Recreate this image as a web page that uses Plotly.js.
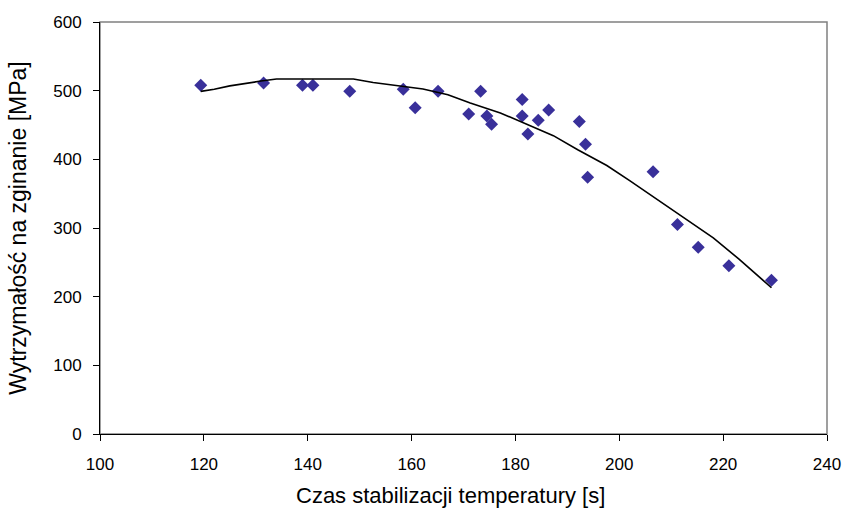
<!DOCTYPE html>
<html>
<head>
<meta charset="utf-8">
<script src="https://cdn.plot.ly/plotly-3.0.1.min.js"></script>
<style>html,body{margin:0;padding:0;background:#fff;}#chart{width:845px;height:511px;}</style>
</head>
<body>
<div id="chart"></div>
<script>
// measured points
const czas = [119.4, 131.5, 139.0, 141.0, 148.1, 158.4, 160.7, 165.1, 171.0, 173.3, 174.5, 175.4, 181.3, 181.3, 182.4, 184.4, 186.4, 192.3, 193.5, 193.9, 206.5, 211.2, 215.2, 221.1, 229.3];
const wytrzymalosc = [508, 511, 508, 508, 499, 502, 475, 499, 466, 499, 463, 451, 487, 463, 437, 457, 472, 455, 422, 374, 382, 305, 272, 245, 224];
// trend line
const trendX = [119.4, 122, 125, 128, 131, 134, 140, 148.8, 152.6, 157, 162.2, 167, 171.3, 177.1, 182, 187.3, 192, 197.6, 202, 207.8, 213, 218.1, 223, 229.3];
const trendY = [499, 502, 507, 511, 514, 517, 517, 517, 512, 508, 502.5, 494, 482, 467.5, 452, 434.5, 414, 391, 369, 339, 312, 285.6, 255, 213];
const xTicks = [100, 120, 140, 160, 180, 200, 220, 240];
const yTicks = [0, 100, 200, 300, 400, 500, 600];
const xTitle = 'Czas stabilizacji temperatury [s]';
const yTitle = 'Wytrzymałość na zginanie [MPa]';

const traces = [
  {x: czas, y: wytrzymalosc, type: 'scatter', mode: 'markers',
   marker: {symbol: 'diamond', size: 10, color: '#39309a'}, hoverinfo: 'skip'},
  {x: trendX, y: trendY, type: 'scatter', mode: 'lines',
   line: {color: '#000000', width: 1.6}, hoverinfo: 'skip'}
];
const font = {family: 'Liberation Sans, Arial, sans-serif', color: '#000'};
const layout = {
  width: 845, height: 511,
  margin: {l: 100, r: 18, t: 22, b: 77},
  paper_bgcolor: '#fff', plot_bgcolor: '#fff',
  showlegend: false,
  font: font,
  xaxis: {
    range: [100, 240], tickvals: xTicks, ticktext: xTicks.map(String),
    showgrid: false, zeroline: false, showline: true, linecolor: '#000', linewidth: 1,
    ticks: 'outside', ticklen: 6, tickcolor: '#000', ticklabelstandoff: 9,
    tickfont: {size: 17, family: font.family, color: '#000'}
  },
  yaxis: {
    range: [0, 600], tickvals: yTicks, ticktext: yTicks.map(String),
    showgrid: false, zeroline: false, showline: true, linecolor: '#000', linewidth: 1,
    ticks: 'outside', ticklen: 6, tickcolor: '#000', ticklabelstandoff: 8,
    tickfont: {size: 17, family: font.family, color: '#000'},
    title: {text: yTitle, font: {size: 23, family: font.family, color: '#000'}, standoff: 20}
  },
  annotations: [{text: xTitle, xref: 'paper', yref: 'paper', x: 0.482, y: -0.149,
                 xanchor: 'center', yanchor: 'middle', showarrow: false,
                 font: {size: 22, family: font.family, color: '#000'}}],
  shapes: [{type: 'rect', xref: 'paper', yref: 'paper', x0: 0, x1: 1, y0: 0, y1: 1,
            line: {color: '#808080', width: 1.5}, layer: 'below'}]
};
Plotly.newPlot('chart', traces, layout, {staticPlot: true, displayModeBar: false});
</script>
</body>
</html>
